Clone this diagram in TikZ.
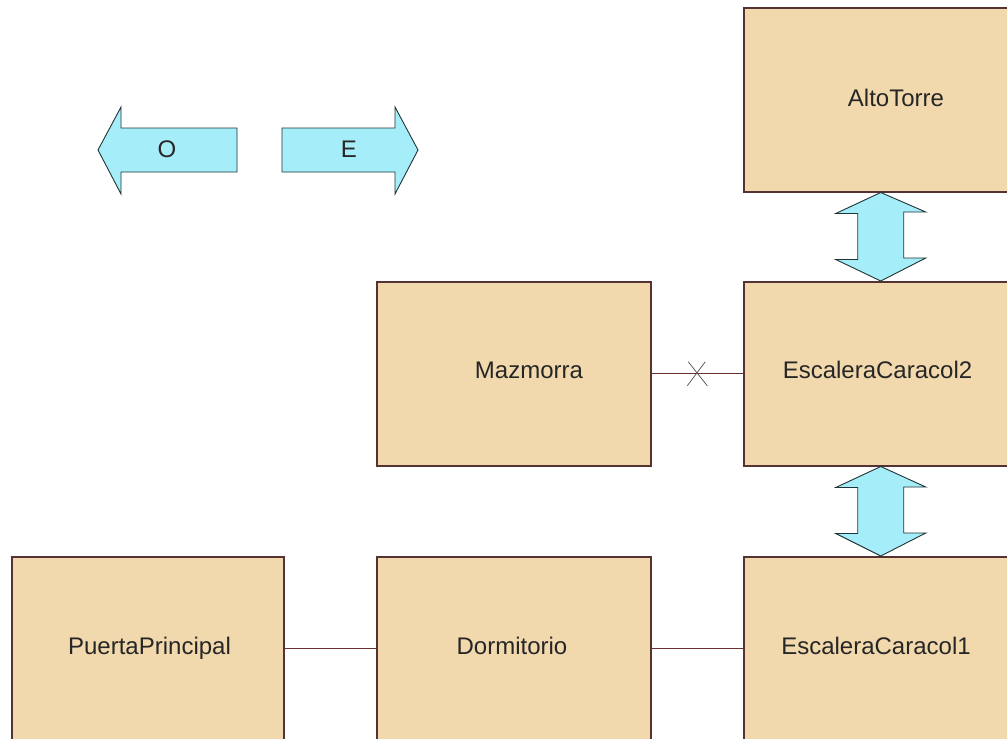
\documentclass[tikz,border=0pt]{standalone}
\usepackage{fontspec}
\setmainfont{Liberation Sans}
\usetikzlibrary{calc}
\definecolor{boxfill}{HTML}{F2D9AD}
\definecolor{boxdraw}{HTML}{553333}
\definecolor{linkcol}{HTML}{6B3030}
\definecolor{arrfill}{HTML}{A6EDFA}
\definecolor{arrdraw}{HTML}{1F3535}
\begin{document}
\begin{tikzpicture}[x=1pt,y=-1pt,
  room/.style={draw=boxdraw, line width=1.5pt, fill=boxfill, minimum width=274pt, minimum height=184pt, anchor=north west, inner sep=0pt},
  lbl/.style={font=\fontsize{24}{28}\selectfont, text=black!85, anchor=base, inner sep=0pt},
  link/.style={draw=linkcol, line width=1pt},
  xmark/.style={draw=black!70, line width=0.7pt},
  dirarrow/.style={fill=arrfill, draw=arrdraw, line width=0.9pt, line join=miter}]
\useasboundingbox (0,0) rectangle (1007,739);
\clip (0,0) rectangle (1007,739);
\fill[white] (0,0) rectangle (1007,739);
% rooms
\node[room] (alto) at (743,7) {};
\node[room] (maz) at (376,281) {};
\node[room] (esc2) at (743,281) {};
\node[room, minimum width=272pt] (puerta) at (11,556) {};
\node[room] (dorm) at (376,556) {};
\node[room] (esc1) at (743,556) {};
% labels
\node[lbl] (altoT) at (896,106) {AltoTorre};
\node[lbl] (mazT) at (529,378) {Mazmorra};
\node[lbl] (esc2T) at (877.5,378) {EscaleraCaracol2};
\node[lbl] (puertaT) at (149.5,654) {PuertaPrincipal};
\node[lbl] (dormT) at (512,654) {Dormitorio};
\node[lbl] (esc1T) at (876,654) {EscaleraCaracol1};
% links
\draw[link] (puerta.east) -- (dorm.west);
\draw[link] (dorm.east) -- (esc1.west);
\draw[link] (maz.east) -- (esc2.west);
\coordinate (xm) at ($(maz.east)!0.5!(esc2.west)$);
\draw[xmark] ($(xm)+(-9,-12)$) -- ($(xm)+(10,12)$);
\draw[xmark] ($(xm)+(8,-12)$) -- ($(xm)+(-10,12)$);
% vertical double arrows
\draw[dirarrow] (alto.south) -- ++(-45,21) -- ++(22,0) -- ++(0,46) -- ++(-22,0) -- (esc2.north) -- ++(45,-23) -- ++(-22,0) -- ++(0,-46) -- ++(22,0) -- cycle;
\draw[dirarrow] (esc2.south) -- ++(-45,21) -- ++(22,0) -- ++(0,46) -- ++(-22,0) -- (esc1.north) -- ++(45,-23) -- ++(-22,0) -- ++(0,-46) -- ++(22,0) -- cycle;
% compass arrows
\draw[dirarrow] (98,150) -- (121,107) -- (121,128) -- (237,128) -- (237,172) -- (121,172) -- (121,194) -- cycle;
\draw[dirarrow] (418,150) -- (395,107) -- (395,128) -- (282,128) -- (282,172) -- (395,172) -- (395,194) -- cycle;
\node[lbl] (oeste) at (167,157) {O};
\node[lbl] (este) at (349,157) {E};
\end{tikzpicture}
\end{document}
